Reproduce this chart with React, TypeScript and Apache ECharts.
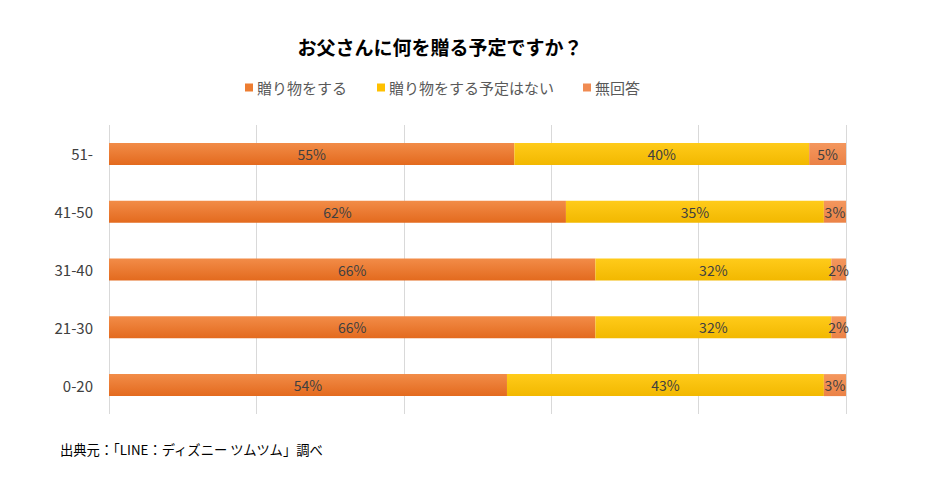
import React, { useEffect, useRef } from "react";
import * as echarts from "echarts";

const categories = ["0-20", "21-30", "31-40", "41-50", "51-"];
const seriesNames = ["贈り物をする", "贈り物をする予定はない", "無回答"];
const giftValues = [54, 66, 66, 62, 55];
const noGiftValues = [43, 32, 32, 35, 40];
const noAnswerValues = [3, 2, 2, 3, 5];
const titleText = "お父さんに何を贈る予定ですか？";
const sourceText = "出典元：「LINE：ディズニー ツムツム」調べ";

const FONT = '"Noto Sans CJK JP", "Noto Sans", sans-serif';

export default function App() {
  const ref = useRef<HTMLDivElement>(null);
  useEffect(() => {
    if (!ref.current) return;
    const chart = echarts.init(ref.current, undefined, { renderer: "svg" });
    const grad = (top: string, bottom: string) =>
      new echarts.graphic.LinearGradient(0, 0, 0, 1, [
        { offset: 0, color: top },
        { offset: 1, color: bottom },
      ]);
    const colors = [
      grad("#F28C48", "#E36A1E"),
      grad("#FFCB1A", "#F2B800"),
      grad("#F4975E", "#EB8246"),
    ];
    const legendColors = ["#ED7D31", "#FFC000", "#F08B52"];
    const legendLefts = [240, 372, 578];
    const label = {
      show: true,
      position: "inside",
      formatter: "{c}%",
      color: "#404040",
      fontSize: 14,
      fontFamily: FONT,
    };
    const dataSets = [giftValues, noGiftValues, noAnswerValues];
    chart.setOption({
      animation: false,
      backgroundColor: "#ffffff",
      grid: { left: 109, right: 91, top: 125, bottom: 78, containLabel: false },
      legend: seriesNames.map((n, i) => ({
        left: legendLefts[i],
        top: 75,
        icon: "rect",
        itemWidth: 8,
        itemHeight: 8,
        itemGap: 0,
        textStyle: { color: "#595959", fontSize: 15, fontFamily: FONT, padding: [0, 0, 0, -1] },
        data: [{ name: n, itemStyle: { color: legendColors[i] } }],
      })),
      xAxis: {
        type: "value",
        min: 0,
        max: 100,
        interval: 20,
        axisLabel: { show: false },
        axisLine: { show: false },
        axisTick: { show: false },
        splitLine: { show: true, lineStyle: { color: "#D9D9D9", width: 1 } },
      },
      yAxis: {
        type: "category",
        data: categories,
        axisLine: { show: false },
        axisTick: { show: false },
        axisLabel: { color: "#404040", fontSize: 15, fontFamily: FONT, margin: 16 },
      },
      series: dataSets.map((d, i) => ({
        name: seriesNames[i],
        type: "bar",
        stack: "total",
        barWidth: 22,
        data: d,
        itemStyle: { color: colors[i] },
        label,
      })),
      graphic: [
        {
          type: "text",
          x: 440,
          y: 46,
          style: {
            text: titleText,
            fill: "#000000",
            font: `bold 19px ${FONT}`,
            textAlign: "center",
            textVerticalAlign: "middle",
          },
        },
        {
          type: "text",
          x: 60,
          y: 449,
          style: {
            text: sourceText,
            fill: "#000000",
            font: `13.3px ${FONT}`,
            textAlign: "left",
            textVerticalAlign: "middle",
          },
        },
      ],
    });
    return () => chart.dispose();
  }, []);
  return (
    <div
      ref={ref}
      style={{ position: "fixed", left: 0, top: 0, width: 937, height: 492 }}
    />
  );
}
